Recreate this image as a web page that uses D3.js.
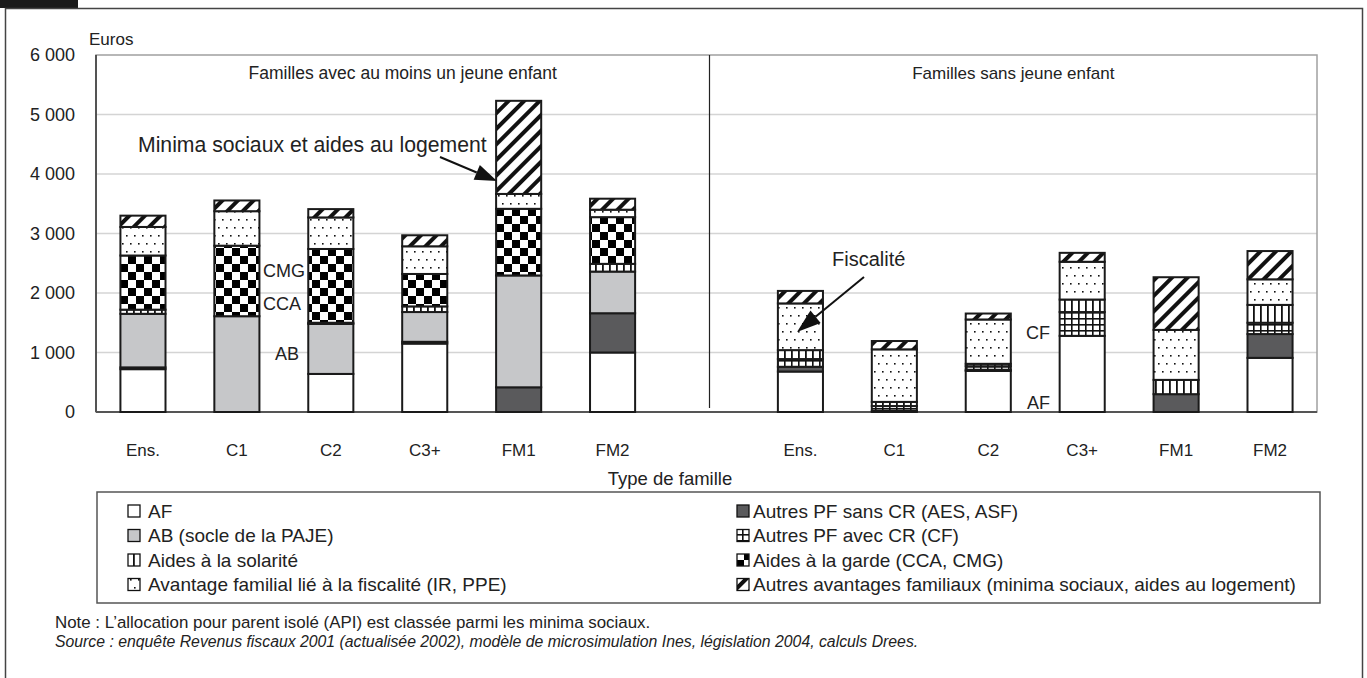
<!DOCTYPE html>
<html><head><meta charset="utf-8">
<script src="https://cdn.jsdelivr.net/npm/d3@7"></script>
<style>
html,body{margin:0;padding:0;background:#fff;}
svg{display:block;font-family:"Liberation Sans",Arial,sans-serif;}
</style></head>
<body><svg id="c" width="1367" height="678"></svg>
<script>
// ---------- data ----------
const categories = ["Ens.","C1","C2","C3+","FM1","FM2"];
const groups = ["Familles avec au moins un jeune enfant","Familles sans jeune enfant"];
const yTicks = [0,1000,2000,3000,4000,5000,6000];
// 6 bars "avec jeune enfant" then 6 bars "sans jeune enfant"
const AF       = [720,    0,  640, 1150,    0, 1000,   680,  20, 690, 1280,   0, 910];
const sansCR   = [ 30,    0,    0,   30,  415,  660,    80,   0,  20,    0, 300, 400];
const AB       = [900, 1610,  840,  500, 1880,  700,     0,   0,   0,    0,   0,   0];
const avecCR   = [  0,    0,    0,    0,    0,    0,   130,  80,  60,  400,   0, 190];
const solarite = [ 70,    0,   20,   95,    0,  130,   150,  70,  40,  210, 240, 300];
const garde    = [910, 1185, 1240,  545, 1120,  785,     0,   0,   0,    0,   0,   0];
const fisc     = [480,  580,  530,  465,  250,  125,   785, 883, 745,  635, 840, 430];
const autres   = [190,  180,  140,  185, 1565,  185,   210, 140, 100,  150, 885, 475];

const seriesKeys = ["AF","sansCR","AB","avecCR","solarite","garde","fisc","autres"];
const seriesVals = {AF, sansCR, AB, avecCR, solarite, garde, fisc, autres};
const legendLeft = [["AF","AF"],["AB","AB (socle de la PAJE)"],["solarite","Aides à la solarité"],["fisc","Avantage familial lié à la fiscalité (IR, PPE)"]];
const legendRight = [["sansCR","Autres PF sans CR (AES, ASF)"],["avecCR","Autres PF avec CR (CF)"],["garde","Aides à la garde (CCA, CMG)"],["autres","Autres avantages familiaux (minima sociaux, aides au logement)"]];

// ---------- build ----------
const svg = d3.select("#c");
const defs = svg.append("defs");
function pat(id,w,h,draw,tr){
  const p = defs.append("pattern").attr("id",id).attr("patternUnits","userSpaceOnUse").attr("width",w).attr("height",h);
  if(tr) p.attr("patternTransform",tr);
  p.append("rect").attr("width",w).attr("height",h).attr("fill","#fff");
  draw(p);
}
pat("p-checker",16,16,p=>{p.append("rect").attr("width",8).attr("height",8).attr("fill","#000");p.append("rect").attr("x",8).attr("y",8).attr("width",8).attr("height",8).attr("fill","#000");});
pat("p-dots",8,16,p=>{p.append("rect").attr("x",2).attr("y",3).attr("width",1.6).attr("height",1.6).attr("fill","#111");p.append("rect").attr("x",6).attr("y",11).attr("width",1.6).attr("height",1.6).attr("fill","#111");});
pat("p-diag",11,11,p=>{p.append("rect").attr("width",4).attr("height",11).attr("fill","#111");},"rotate(45)");
pat("p-vert",7,7,p=>{p.append("rect").attr("width",1.8).attr("height",7).attr("fill","#111");});
pat("p-grid",7,6,p=>{p.append("rect").attr("width",1.6).attr("height",6).attr("fill","#111");p.append("rect").attr("width",7).attr("height",1.6).attr("fill","#111");});
const fills = {AF:"#ffffff",sansCR:"#5a5a5c",AB:"#c6c7c9",avecCR:"url(#p-grid)",solarite:"url(#p-vert)",garde:"url(#p-checker)",fisc:"url(#p-dots)",autres:"url(#p-diag)"};

// outer frame
svg.append("rect").attr("x",0).attr("y",0).attr("width",78).attr("height",8).attr("fill","#1a1a1a");
svg.append("rect").attr("x",5.5).attr("y",8.5).attr("width",1357).attr("height",700).attr("fill","none").attr("stroke","#444").attr("stroke-width",1.5);

const L=96, R=1317, T=55, B=412;
const keys = [];
categories.forEach((c,i)=>keys.push("a"+i));
keys.push("gap");
categories.forEach((c,i)=>keys.push("b"+i));
const labelOf = k => k==="gap" ? "" : categories[+k.slice(1)];
const x = d3.scaleBand().domain(keys).range([L,R]).paddingInner(0.52).paddingOuter(0.26);
const y = d3.scaleLinear().domain([0,6000]).range([B,T]);

// gridlines
svg.append("g").selectAll("line").data(yTicks.filter(v=>v>0 && v<6000)).join("line")
  .attr("x1",L).attr("x2",R).attr("y1",d=>y(d)).attr("y2",d=>y(d)).attr("stroke","#d4d4d4").attr("stroke-width",1.5);
// plot border
svg.append("rect").attr("x",L).attr("y",T).attr("width",R-L).attr("height",B-T).attr("fill","none").attr("stroke","#a0a0a0").attr("stroke-width",1.5);
svg.append("line").attr("x1",L).attr("x2",L).attr("y1",T).attr("y2",B).attr("stroke","#333").attr("stroke-width",1.5);
svg.append("line").attr("x1",L).attr("x2",R).attr("y1",B).attr("y2",B).attr("stroke","#555").attr("stroke-width",2);

// divider
const xd = x("gap")+x.bandwidth()/2+3;
svg.append("line").attr("x1",xd).attr("x2",xd).attr("y1",T).attr("y2",B-4).attr("stroke","#222").attr("stroke-width",1.2);

// stacked bars
const barKeys = keys.filter(k=>k!=="gap");
const rows = barKeys.map((k,i)=>{const o={key:k}; seriesKeys.forEach(s=>o[s]=seriesVals[s][i]); return o;});
const stack = d3.stack().keys(seriesKeys)(rows);
svg.append("g").selectAll("g").data(stack).join("g").attr("fill",d=>fills[d.key])
  .selectAll("rect").data(d=>d.filter(p=>p[1]-p[0]>0)).join("rect")
  .attr("x",d=>x(d.data.key)).attr("width",x.bandwidth())
  .attr("y",d=>y(d[1])).attr("height",d=>y(d[0])-y(d[1]))
  .attr("stroke","#1a1a1a").attr("stroke-width",2);

// y axis
const ya = svg.append("g").attr("transform",`translate(${L},0)`)
  .call(d3.axisLeft(y).tickValues(yTicks).tickSize(0).tickPadding(21).tickFormat(d=>d3.format(",")(d).replace(/,/g," ")));
ya.select(".domain").remove();
ya.selectAll("text").attr("font-size",18).attr("fill","#222").attr("font-family","Liberation Sans, Arial, sans-serif");
svg.append("text").attr("x",89).attr("y",45).attr("font-size",17).attr("fill","#222").text("Euros");

// x axis
const xa = svg.append("g").attr("transform",`translate(0,${B})`)
  .call(d3.axisBottom(x).tickSize(0).tickPadding(32).tickFormat(labelOf));
xa.select(".domain").remove();
xa.selectAll("text").attr("font-size",17).attr("fill","#222").attr("font-family","Liberation Sans, Arial, sans-serif");
svg.append("text").attr("x",670).attr("y",485).attr("text-anchor","middle").attr("font-size",18.5).attr("fill","#222").text("Type de famille");

// group titles
svg.append("text").attr("x",(L+xd)/2).attr("y",79).attr("text-anchor","middle").attr("font-size",17.5).attr("fill","#222").text(groups[0]);
svg.append("text").attr("x",(xd+R)/2).attr("y",79).attr("text-anchor","middle").attr("font-size",17).attr("fill","#222").text(groups[1]);

// annotations
function arrow(x1,y1,x2,y2,hl,hw){
  const a=Math.atan2(y2-y1,x2-x1), bx=x2-hl*Math.cos(a), by=y2-hl*Math.sin(a);
  svg.append("line").attr("x1",x1).attr("y1",y1).attr("x2",bx).attr("y2",by).attr("stroke","#111").attr("stroke-width",2);
  const px=-Math.sin(a)*hw, py=Math.cos(a)*hw;
  svg.append("polygon").attr("points",`${x2},${y2} ${bx+px},${by+py} ${bx-px},${by-py}`).attr("fill","#111");
}
svg.append("text").attr("x",138).attr("y",152).attr("font-size",21.2).attr("fill","#222").text("Minima sociaux et aides au logement");
arrow(440,157,497,181,22,8);
svg.append("text").attr("x",832).attr("y",266).attr("font-size",20).attr("fill","#222").text("Fiscalité");
arrow(864,277,797,332,24,8);
const lab=(t,xx,yy)=>svg.append("text").attr("x",xx).attr("y",yy).attr("font-size",18).attr("fill","#222").text(t);
lab("CMG",263,277); lab("CCA",263,310); lab("AB",275,360); lab("CF",1026,339); lab("AF",1027,409);

// legend
svg.append("rect").attr("x",97).attr("y",492).attr("width",1223).attr("height",111).attr("fill","#fff").attr("stroke","#555").attr("stroke-width",1.5);
function legendCol(items,sx,tx){
  items.forEach(([k,t],i)=>{
    const cy = 511 + i*24.5;
    svg.append("rect").attr("x",sx).attr("y",cy-6).attr("width",12).attr("height",12).attr("fill",fills[k]).attr("stroke","#111").attr("stroke-width",1.3);
    svg.append("text").attr("x",tx).attr("y",cy+6.5).attr("font-size",19).attr("fill","#222").text(t);
  });
}
legendCol(legendLeft,128,148);
legendCol(legendRight,737,753);

// notes
svg.append("text").attr("x",55).attr("y",628).attr("font-size",16.9).attr("fill","#222").text("Note : L’allocation pour parent isolé (API) est classée parmi les minima sociaux.");
svg.append("text").attr("x",55).attr("y",647).attr("font-size",15.8).attr("font-style","italic").attr("fill","#222").text("Source : enquête Revenus fiscaux 2001 (actualisée 2002), modèle de microsimulation Ines, législation 2004, calculs Drees.");
</script></body></html>
